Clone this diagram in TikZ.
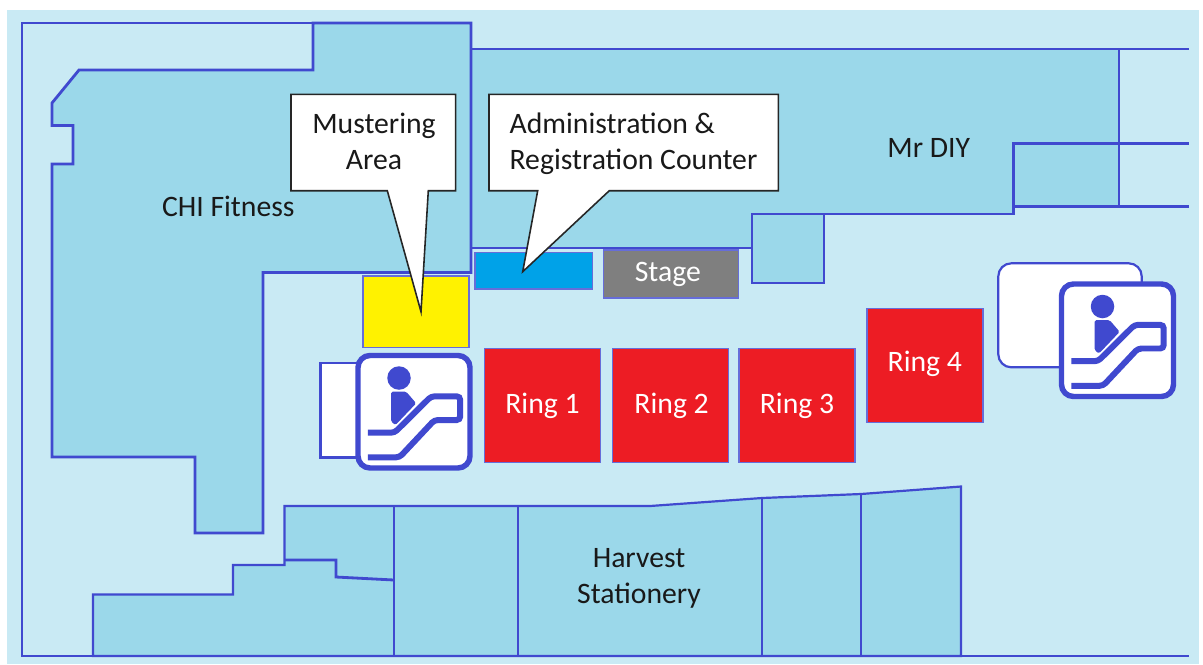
\documentclass[tikz,border=0pt]{standalone}
\usepackage{fontspec}
\setmainfont{Carlito}
\usetikzlibrary{calc}
\definecolor{hallbg}{HTML}{C9EAF4}
\definecolor{shopfill}{HTML}{9BD8EA}
\definecolor{wallblue}{HTML}{4049CF}
\definecolor{ringred}{HTML}{ED1C24}
\definecolor{musteryellow}{HTML}{FFF200}
\definecolor{counterblue}{HTML}{00A2E8}
\definecolor{stagegrey}{HTML}{7F7F7F}
\tikzset{
    wall/.style={draw=wallblue, line width=1.6pt, line join=miter},
    thinwall/.style={draw=wallblue, line width=1.25pt},
    shop/.style={wall, fill=shopfill},
    thinshop/.style={thinwall, fill=shopfill},
    block/.style n args={3}{draw=wallblue!80, line width=0.9pt, fill=#1, inner sep=0pt, minimum width=#2, minimum height=#3},
    ring/.style={block={ringred}{2.32cm}{2.28cm}, text=white, font=\fontsize{16.9}{20}\selectfont},
    maptext/.style={font=\fontsize{16.9}{20.3}\selectfont, align=center, inner sep=0pt, text=black!90, anchor=base},
    balloon/.style={draw=black!85, line width=0.9pt, fill=white, line join=miter},
    escicon/.pic={
        \draw[draw=wallblue, fill=white, line width=3.1pt, rounded corners=0.24cm] (2.5,2.5) rectangle (114.5,115);
        \fill[wallblue] (43.5,25) circle (0.235cm);
        \fill[wallblue, rounded corners=0.03cm] (35.7,38.7) -- (50.7,38.7) -- (60.7,50.3) -- (40,72) -- (35.7,68.7) -- cycle;
        \draw[draw=wallblue, line width=3.4pt, rounded corners=0.07cm] (12.3,79.7) -- (39,79.7) -- (75.7,43.3) -- (104.7,43.3) -- (104.7,67) -- (79,67) -- (44,104.3) -- (12.3,104.3);
    }
}
\begin{document}
\begin{tikzpicture}[x=0.02cm, y=-0.02cm]
\useasboundingbox (0,0) rectangle (1203,664);
\fill[hallbg] (7,10) rectangle (1199,664);

% shops
\draw[thinshop] (471,49) -- (1119,49) -- (1119,206.5) -- (1013.5,206.5) -- (1013.5,214.3) -- (751.7,214.3) -- (751.7,248.3) -- (471,248.3);
\draw[wall] (1013.5,214.3) -- (1013.5,143.5) -- (1119,143.5);
\draw[thinshop] (751.7,214.3) rectangle (824,283.3);
\draw[shop] (313,23) -- (471,23) -- (471,272.5) -- (263,272.5) -- (263,533) -- (195,533) -- (195,457) -- (52,457) -- (52,164) -- (73,164) -- (73,125.5) -- (52,125.5) -- (52,103) -- (79,70) -- (313,70) -- cycle;
\draw[thinshop] (93,656) -- (93,594.5) -- (233,594.5) -- (233,565) -- (284.5,565) -- (284.5,506) -- (650,506) -- (762,498) -- (861,494) -- (961,486.5) -- (961,656) -- cycle;
\draw[wall] (284.5,506) -- (650,506);
\draw[wall] (284.5,560) -- (336,560) -- (336,577) -- (394,580);
\draw[thinwall] (394,506) -- (394,656);
\draw[thinwall] (518,506) -- (518,656);
\draw[thinwall] (762,498) -- (762,656);
\draw[thinwall] (861,494) -- (861,656);

% outer walls
\draw[wall] (471,23) -- (22,23) -- (22,656) -- (1189,656);
\draw[thinwall] (1119,49) -- (1189,49);
\draw[thinwall] (1119,143.5) -- (1189,143.5);
\draw[thinwall] (1119,206.5) -- (1189,206.5);

% stands
\node[block={musteryellow}{2.13cm}{1.44cm}] (muster) at (416,311.7) {};
\node[block={counterblue}{2.35cm}{0.73cm}] (counter) at (533.7,270.8) {};
\node[block={stagegrey}{2.70cm}{0.96cm}, text=white, font=\fontsize{16.9}{20}\selectfont] (stage) at (670.8,274) {Stage\kern 3.4pt};
\node[ring] (ring1) at (542.5,405.5) {Ring 1};
\node[ring] (ring2) at (670.3,405.5) {\kern 1.5pt Ring 2};
\node[ring] (ring3) at (797,405.5) {Ring 3};
\node[ring] (ring4) at (924.8,365.5) {\raisebox{5pt}{Ring 4}};

% escalators
\draw[draw=wallblue, line width=1.25pt, fill=white] (360,362.7) -- (320.5,362.7) -- (320.5,457.5) -- (360,457.5);
\pic (escleft) at (355.5,353) {escicon};
\draw[draw=wallblue, line width=1.25pt, fill=white, rounded corners=0.26cm] (998.3,263.3) rectangle (1141.7,367.3);
\pic (escright) at (1059,281.5) {escicon};

% balloons
\coordinate (mustertip) at (421,311.7);
\draw[balloon] (291,94.3) -- (455.7,94.3) -- (455.7,190.7) -- (428.3,190.7) -- (mustertip) -- (387.3,190.7) -- (291,190.7) -- cycle;
\coordinate (countertip) at (522.7,271.7);
\draw[balloon] (489,94.3) -- (778.3,94.3) -- (778.3,190.7) -- (609.3,190.7) -- (countertip) -- (537.7,190.7) -- (489,190.7) -- cycle;

% labels
\node[maptext] (chi) at (228.3,216.5) {CHI Fitness};
\node[maptext] (diy) at (928.7,157) {Mr DIY};
\node[maptext] (harvest) at (639,603) {Harvest\\Stationery};
\node[maptext] (mustering) at (374,169) {Mustering\\Area};
\node[maptext, align=left] (admin) at (633.5,169) {Administration \&\\Registration Counter};
\end{tikzpicture}
\end{document}
